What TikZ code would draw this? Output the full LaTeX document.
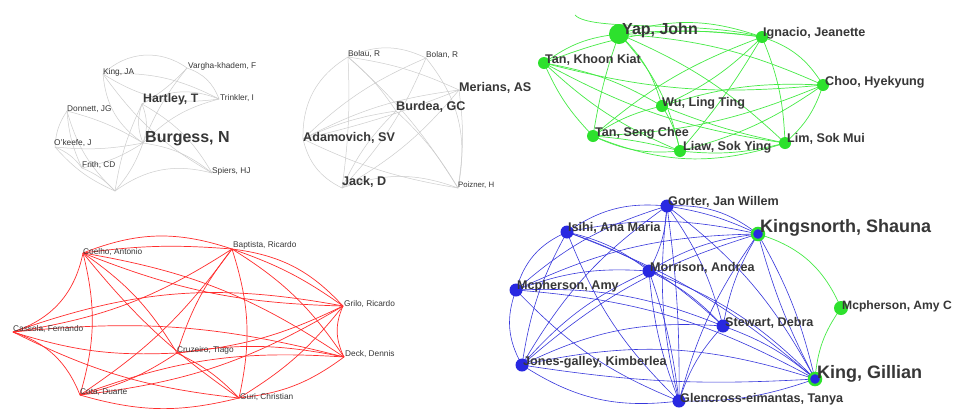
\documentclass[tikz,border=0pt]{standalone}
\usepackage{fontspec}
\setmainfont{Liberation Sans}
\definecolor{edgegray}{RGB}{205,205,205}
\definecolor{txt}{RGB}{55,55,55}
\definecolor{gedgec}{RGB}{70,235,70}
\definecolor{gnodec}{RGB}{45,225,45}
\definecolor{redgec}{RGB}{255,45,45}
\definecolor{bedgec}{RGB}{55,55,220}
\definecolor{bnodec}{RGB}{40,40,225}
\tikzset{
  lbl/.style={anchor=west, inner sep=0pt, text=txt, font=\fontsize{8.3}{9}\selectfont},
  blbl/.style={anchor=west, inner sep=0pt, text=txt, font=\bfseries\fontsize{12.6}{14}\selectfont},
  hlbl/.style={anchor=west, inner sep=0pt, text=txt, font=\bfseries\fontsize{16}{18}\selectfont},
  xlbl/.style={anchor=west, inner sep=0pt, text=txt, font=\bfseries\fontsize{18}{20}\selectfont},
  grayedge/.style={draw=edgegray, line width=0.5pt},
  greenedge/.style={draw=gedgec, line width=0.7pt},
  rededge/.style={draw=redgec, line width=0.7pt},
  blueedge/.style={draw=bedgec, line width=0.6pt},
  gdot/.style={circle, fill=gnodec, draw=none, minimum size=12pt, inner sep=0pt},
  bigdot/.style={circle, fill=gnodec, draw=none, minimum size=20pt, inner sep=0pt},
  bdot/.style={circle, fill=bnodec, draw=none, minimum size=13pt, inner sep=0pt},
  ringdot/.style={circle, fill=bnodec, draw=gnodec, line width=2.5pt, minimum size=12pt, inner sep=0pt},
}
\begin{document}
\begin{tikzpicture}[x=1pt,y=-1pt]
\useasboundingbox (0,0) rectangle (955,408);
\fill[white] (0,0) rectangle (955,408);

% ---------------- Panel 1 (gray) ----------------
\coordinate (aK) at (103,74);
\coordinate (aV) at (187,68);
\coordinate (aH) at (142,104);
\coordinate (aT) at (219,99);
\coordinate (aD) at (67,111);
\coordinate (aO) at (55,147);
\coordinate (aB) at (143,143);
\coordinate (aF) at (82,168);
\coordinate (aS) at (212,173);
\coordinate (aX) at (115,191);
\foreach \a/\b/\c in {aK/aV/40, aK/aT/15, aK/aT/-20, aK/aB/-25, aK/aS/-12, aV/aT/25, aV/aH/8, aV/aB/-8,
  aH/aT/25, aB/aT/15, aB/aS/15, aX/aS/25, aB/aX/10, aH/aB/20, aH/aB/-20, aH/aS/15,
  aB/aD/-8, aB/aO/8, aB/aF/10, aD/aO/-15, aD/aF/-10, aD/aX/-15, aO/aF/15, aO/aX/-12, aF/aX/12, aH/aX/-8}
  \draw[grayedge] (\a) to[bend left=\c] (\b);
\node[lbl] (laK) at (103,72) {King, JA};
\node[lbl] (laV) at (188,66) {Vargha-khadem, F};
\node[blbl, font=\bfseries\fontsize{12.3}{14}\selectfont] (laH) at (143,99) {Hartley, T};
\node[lbl] (laT) at (220,98) {Trinkler, I};
\node[lbl] (laD) at (67,109) {Donnett, JG};
\node[lbl] (laO) at (54,143) {O'keefe, J};
\node[hlbl] (laB) at (145,139) {Burgess, N};
\node[lbl] (laF) at (82,165) {Frith, CD};
\node[lbl] (laS) at (212,171) {Spiers, HJ};

% ---------------- Panel 2 (gray) ----------------
\coordinate (bBo) at (348,57);
\coordinate (bBn) at (426,58);
\coordinate (bM) at (459,90);
\coordinate (bBu) at (396,111);
\coordinate (bA) at (303,139);
\coordinate (bJ) at (342,188);
\coordinate (bP) at (458,188);
\foreach \a/\b/\c in {bBo/bBn/25, bBo/bM/8, bBo/bP/8, bBo/bA/-30, bBo/bJ/5, bBo/bBu/8, bBn/bA/-10,
  bBn/bJ/10, bBn/bP/25, bM/bA/-10, bM/bA/4, bM/bJ/10, bM/bP/8, bA/bP/-8, bA/bJ/-25, bJ/bP/20,
  bA/bBu/8, bBu/bP/8, bBu/bJ/-10}
  \draw[grayedge] (\a) to[bend left=\c] (\b);
\node[lbl] (lbBo) at (348,54) {Bolau, R};
\node[lbl] (lbBn) at (426,55) {Bolan, R};
\node[blbl] (lbM) at (459,88) {Merians, AS};
\node[blbl] (lbBu) at (396,107) {Burdea, GC};
\node[blbl] (lbA) at (303,138) {Adamovich, SV};
\node[blbl] (lbJ) at (342,182) {Jack, D};
\node[lbl, font=\fontsize{7.8}{9}\selectfont] (lbP) at (458,185) {Poizner, H};

% ---------------- Panel 3 (green) ----------------
\coordinate (cY) at (619,34);
\coordinate (cI) at (762,37);
\coordinate (cTK) at (544,63);
\coordinate (cC) at (823,85);
\coordinate (cW) at (662,106);
\coordinate (cTS) at (593,136);
\coordinate (cL) at (680,151);
\coordinate (cLM) at (785,143);
\coordinate (cZ) at (575,15);
\foreach \a/\b/\c in {cY/cI/18, cY/cI/6, cY/cTK/-15, cY/cW/15, cY/cTS/-5, cY/cL/15, cY/cLM/10, cY/cC/10,
  cI/cTK/-15, cI/cC/20, cI/cW/10, cI/cL/5, cI/cLM/10, cI/cTS/-10,
  cTK/cW/10, cTK/cC/-10, cTK/cTS/-10, cTK/cL/-10, cTK/cLM/-10,
  cC/cW/-10, cC/cTS/10, cC/cL/10, cC/cLM/15,
  cW/cTS/-10, cW/cL/10, cW/cLM/-5, cTS/cL/-15, cTS/cL/5, cTS/cLM/-20, cL/cLM/-10}
  \draw[greenedge] (\a) to[bend left=\c] (\b);
\draw[greenedge] (cZ) .. controls (590,32) and (700,20) .. (cI);
\node[bigdot] (nY) at (cY) {};
\foreach \p in {cI,cTK,cC,cW,cTS,cL,cLM}
  \node[gdot] (n\p) at (\p) {};
\node[hlbl] (lcY) at (622,30) {Yap, John};
\node[blbl] (lcI) at (763,33) {Ignacio, Jeanette};
\node[blbl] (lcTK) at (545,60) {Tan, Khoon Kiat};
\node[blbl] (lcC) at (825,82) {Choo, Hyekyung};
\node[blbl] (lcW) at (662,103) {Wu, Ling Ting};
\node[blbl] (lcTS) at (595,133) {Tan, Seng Chee};
\node[blbl] (lcL) at (683,147) {Liaw, Sok Ying};
\node[blbl] (lcLM) at (787,139) {Lim, Sok Mui};

% ---------------- Panel 4 (red) ----------------
\coordinate (dCo) at (83,253);
\coordinate (dBa) at (232,249);
\coordinate (dGr) at (343,306);
\coordinate (dCa) at (13,332);
\coordinate (dCr) at (177,353);
\coordinate (dDe) at (344,357);
\coordinate (dCt) at (80,395);
\coordinate (dGu) at (239,398);
\foreach \a/\b/\c in {dCo/dBa/20, dCo/dBa/6, dBa/dGr/20, dBa/dGr/8, dGr/dDe/-25, dDe/dGu/15, dCt/dGu/-15,
  dCt/dCa/-25, dCa/dCo/-30,
  dCo/dGr/-10, dCo/dDe/12, dCo/dCr/12, dCo/dGu/-8, dCo/dCt/15,
  dBa/dDe/12, dBa/dCr/-10, dBa/dGu/15, dBa/dCt/10, dBa/dCa/12,
  dGr/dCr/10, dGr/dGu/10, dGr/dCt/12, dCa/dGr/15,
  dCa/dCr/-10, dCa/dDe/10, dCa/dGu/-10, dCr/dDe/10, dCr/dGu/10, dCr/dCt/10, dCt/dDe/12}
  \draw[rededge] (\a) to[bend left=\c] (\b);
\node[lbl] (ldCo) at (83,252) {Coelho, Antonio};
\node[lbl] (ldBa) at (233,245) {Baptista, Ricardo};
\node[lbl] (ldGr) at (344,304) {Grilo, Ricardo};
\node[lbl] (ldCa) at (13,329) {Cassola, Fernando};
\node[lbl] (ldCr) at (177,350) {Cruzeiro, Tiago};
\node[lbl] (ldDe) at (345,354) {Deck, Dennis};
\node[lbl] (ldCt) at (80,392) {Cota, Duarte};
\node[lbl] (ldGu) at (240,397) {Guri, Christian};

% ---------------- Panel 5 (blue) ----------------
\coordinate (eGo) at (667,206);
\coordinate (eIs) at (567,232);
\coordinate (eKs) at (758,234);
\coordinate (eMo) at (649,271);
\coordinate (eMa) at (516,290);
\coordinate (eMc) at (841,308);
\coordinate (eSt) at (723,326);
\coordinate (eJg) at (522,365);
\coordinate (eKg) at (815,379);
\coordinate (eGl) at (679,401);
\foreach \a/\b/\c in {eIs/eGo/20, eGo/eKs/20, eGo/eKs/8, eKs/eKg/8, eKs/eKg/-6, eKg/eGl/10, eGl/eJg/20,
  eJg/eMa/25, eMa/eIs/25,
  eIs/eKs/12, eIs/eMo/12, eIs/eSt/12, eIs/eJg/-10, eIs/eKg/10, eIs/eGl/-12,
  eGo/eMo/12, eGo/eMa/-12, eGo/eSt/10, eGo/eJg/-12, eGo/eKg/12, eGo/eGl/-10, eGo/eGl/4,
  eKs/eMo/-12, eKs/eMa/-12, eKs/eSt/-10, eKs/eJg/-12, eKs/eGl/-10,
  eMo/eMa/-12, eMo/eSt/10, eMo/eJg/-12, eMo/eKg/12, eMo/eGl/-8, eMo/eGl/6,
  eMa/eSt/12, eMa/eKg/12, eMa/eGl/-12, eSt/eJg/-15, eSt/eKg/10, eSt/eGl/-12, eJg/eKg/15, eJg/eKg/-6}
  \draw[blueedge] (\a) to[bend left=\c] (\b);
\draw[greenedge] (eKs) to[bend left=25] (eMc);
\draw[greenedge] (eMc) to[bend right=15] (eKg);
\foreach \p in {eGo,eIs,eMo,eMa,eSt,eJg,eGl}
  \node[bdot] (n\p) at (\p) {};
\node[ringdot] (neKs) at (eKs) {};
\node[ringdot] (neKg) at (eKg) {};
\node[gdot, minimum size=14pt] (neMc) at (eMc) {};
\node[blbl] (leGo) at (668,202) {Gorter, Jan Willem};
\node[blbl] (leIs) at (568,228) {Isihi, Ana Maria};
\node[xlbl] (leKs) at (760,228) {Kingsnorth, Shauna};
\node[blbl] (leMo) at (650,268) {Morrison, Andrea};
\node[blbl] (leMa) at (517,286) {Mcpherson, Amy};
\node[blbl, font=\bfseries\fontsize{12.1}{14}\selectfont] (leMc) at (842,306) {Mcpherson, Amy C};
\node[blbl] (leSt) at (725,323) {Stewart, Debra};
\node[blbl] (leJg) at (523,362) {Jones-galley, Kimberlea};
\node[xlbl] (leKg) at (817,374) {King, Gillian};
\node[blbl] (leGl) at (680,399) {Glencross-eimantas, Tanya};
\end{tikzpicture}
\end{document}
